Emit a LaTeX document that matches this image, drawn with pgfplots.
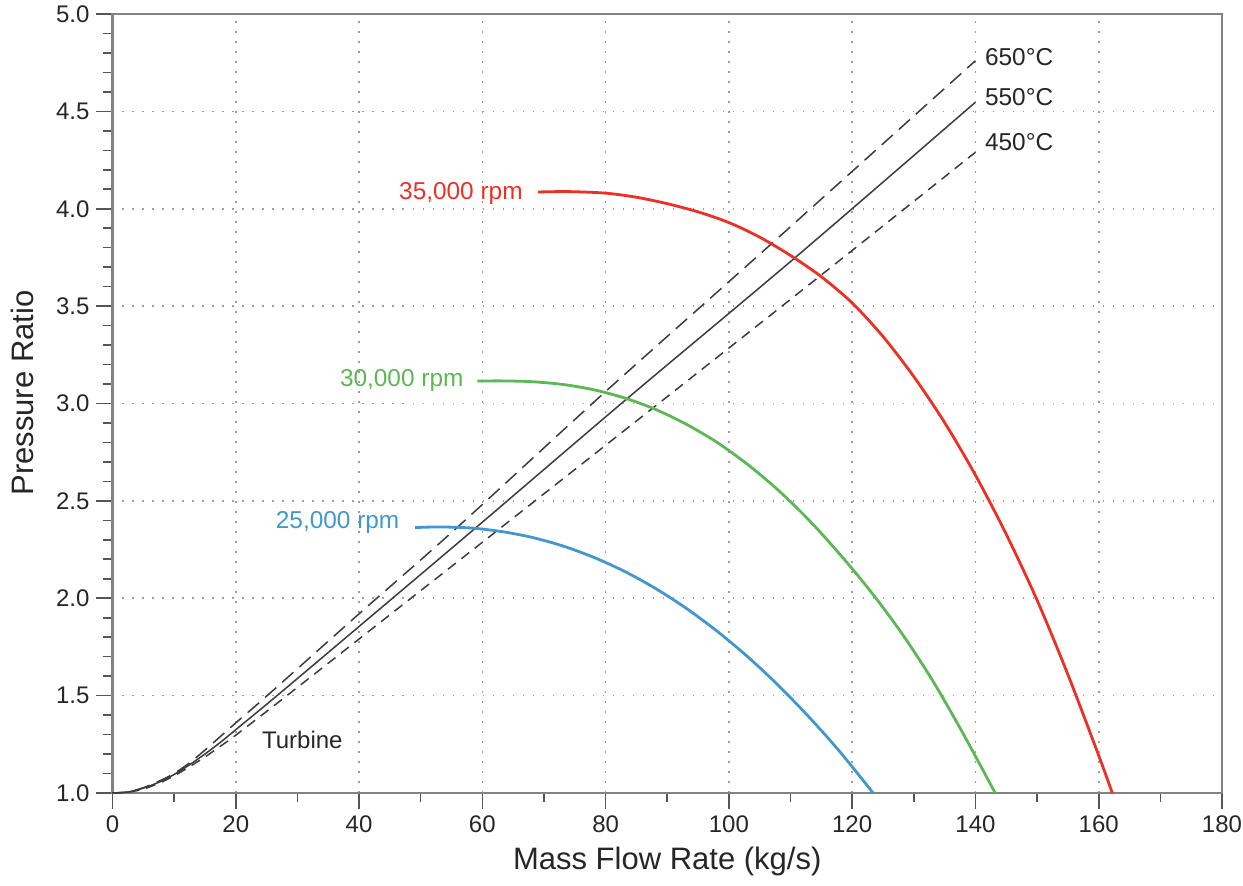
\documentclass[border=0pt]{standalone}
\usepackage{pgfplots}
\pgfplotsset{compat=1.18}
\usepackage{fontspec}
\setmainfont{Liberation Sans}
\definecolor{cRed}{RGB}{236,48,38}
\definecolor{cGreen}{RGB}{92,184,82}
\definecolor{cBlue}{RGB}{66,152,206}
\definecolor{cAxis}{RGB}{130,130,130}
\definecolor{cTick}{RGB}{85,85,85}
\definecolor{cLine}{RGB}{60,60,60}
\begin{document}
\begin{tikzpicture}
\begin{axis}[
  scale only axis,
  width=554.75pt, height=389.5pt,
  xmin=0, xmax=180, ymin=1, ymax=5,
  xtick={0,20,...,180}, ytick={1,1.5,...,5},
  minor x tick num=1, minor y tick num=4,
  xtick pos=bottom, ytick pos=left,
  tick align=outside,
  major tick length=8pt, minor tick length=4.5pt,
  every tick/.style={cTick, line width=0.8pt},
  axis line style={cAxis, line width=1.1pt},
  grid=major,
  major grid style={gray!75, line width=0.8pt, dash pattern=on 0.8pt off 4.2pt},
  /pgf/number format/assume math mode=true,
  ticklabel style={font=\fontsize{12}{14}\selectfont, text=black!85},
  yticklabel style={/pgf/number format/fixed, /pgf/number format/fixed zerofill, /pgf/number format/precision=1},
  xticklabel style={/pgf/number format/fixed},
  xlabel={Mass Flow Rate (kg/s)}, ylabel={Pressure Ratio},
  label style={font=\fontsize{15.5}{18}\selectfont, text=black!85},
  xlabel style={at={(axis description cs:0.5,-0.0875)}, anchor=center},
  ylabel style={at={(axis description cs:-0.0811,0.5135)}, anchor=center},
  clip=false,
]
\coordinate (ll) at (rel axis cs:0,0);
\coordinate (ur) at (rel axis cs:1,1);
% temperature lines
\addplot[cLine, line width=0.75pt, dash pattern=on 7.5pt off 4pt, smooth] coordinates {
(0,1.0)(2.5,1.006)(5,1.027)(7.5,1.06)(10,1.10)(12.5,1.155)(15,1.22)(17.5,1.29)(20,1.36)(25.1,1.5)(40,1.92)(55.8,2.36)(79.6,3.05)(106.9,3.82)(140,4.76)};
\addplot[cLine, line width=0.75pt, smooth] coordinates {
(0,1.0)(2.5,1.005)(5,1.025)(7.5,1.055)(10,1.095)(12.5,1.145)(15,1.20)(17.5,1.26)(20,1.325)(26.7,1.5)(40,1.855)(58.5,2.35)(83.3,3.02)(110.6,3.745)(140,4.547)};
\addplot[cLine, line width=0.75pt, dash pattern=on 5pt off 3.5pt, smooth] coordinates {
(0,1.0)(2.5,1.004)(5,1.02)(7.5,1.05)(10,1.088)(12.5,1.135)(15,1.185)(17.5,1.24)(20,1.297)(28.3,1.5)(45,1.915)(62,2.337)(87.4,2.97)(114.8,3.655)(140,4.29)};
% speed lines
\addplot[cRed, line width=1.4pt, smooth] coordinates {
(69,4.086)(74,4.088)(80,4.080)(85,4.059)(90,4.026)(95,3.984)(100,3.929)(105,3.854)(110,3.760)(115,3.651)(120,3.516)(125,3.344)(130,3.138)(135,2.902)(140,2.632)(145,2.328)(150,1.99)(155,1.608)(160,1.192)(162.2,1.0)};
\addplot[cGreen, line width=1.4pt, smooth] coordinates {
(59.2,3.115)(63,3.116)(68,3.112)(73,3.098)(78,3.071)(83,3.029)(88,2.971)(93,2.895)(98,2.802)(103,2.688)(108,2.555)(113,2.401)(118,2.226)(123,2.035)(128,1.822)(133,1.58)(138,1.305)(143.2,1.0)};
\addplot[cBlue, line width=1.4pt, smooth] coordinates {
(49.1,2.363)(53,2.366)(58,2.361)(63,2.343)(68,2.313)(73,2.269)(78,2.211)(83,2.139)(88,2.052)(93,1.95)(98,1.833)(103,1.701)(108,1.553)(113,1.39)(118,1.212)(123.4,1.0)};
% labels
\node[anchor=east, text=cRed, font=\fontsize{12.2}{14}\selectfont, inner sep=0pt] at (axis cs:66.6,4.08) {35,000 rpm};
\node[anchor=east, text=cGreen, font=\fontsize{12.2}{14}\selectfont, inner sep=0pt] at (axis cs:57.0,3.116) {30,000 rpm};
\node[anchor=east, text=cBlue, font=\fontsize{12.2}{14}\selectfont, inner sep=0pt] at (axis cs:46.6,2.387) {25,000 rpm};
\node[anchor=center, text=black!85, font=\fontsize{12}{14}\selectfont, inner sep=0pt] at (axis cs:30.8,1.272) {Turbine};
\node[anchor=west, text=black!85, font=\fontsize{12.2}{14}\selectfont, inner sep=0pt] at (axis cs:141.5,4.78) {650°C};
\node[anchor=west, text=black!85, font=\fontsize{12.2}{14}\selectfont, inner sep=0pt] at (axis cs:141.5,4.575) {550°C};
\node[anchor=west, text=black!85, font=\fontsize{12.2}{14}\selectfont, inner sep=0pt] at (axis cs:141.5,4.344) {450°C};
\end{axis}
\pgfresetboundingbox
\path ([shift={(-56.25pt,-46.5pt)}]ll) rectangle ([shift={(10.5pt,7pt)}]ur);
\end{tikzpicture}
\end{document}
